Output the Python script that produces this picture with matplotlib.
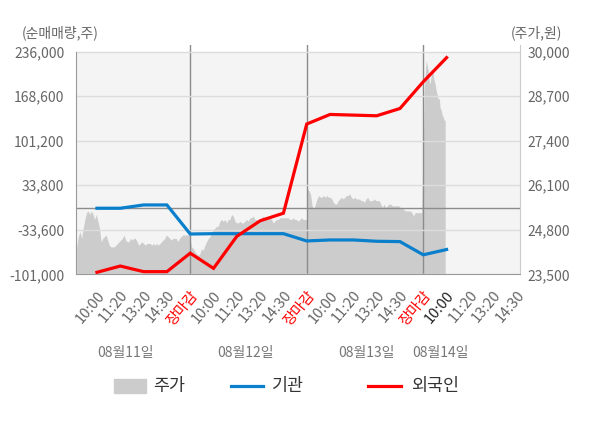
import numpy as np
import matplotlib
matplotlib.use('Agg')
import matplotlib.pyplot as plt
from matplotlib.patches import Rectangle
from matplotlib.lines import Line2D
from matplotlib.ticker import FuncFormatter

plt.rcParams['font.family'] = ['Noto Sans CJK KR', 'DejaVu Sans']

# ---------------- data ----------------
x_labels = ['10:00', '11:20', '13:20', '14:30', '장마감',
            '10:00', '11:20', '13:20', '14:30', '장마감',
            '10:00', '11:20', '13:20', '14:30', '장마감',
            '10:00', '11:20', '13:20', '14:30']
dates = ['08월11일', '08월12일', '08월13일', '08월14일']

inst = [-1000, -1000, 4000, 4000, -40000,
        -39500, -39500, -39500, -39500, -50500,
        -49000, -49000, -51000, -51500, -71500,
        -63500]
foreign = [-98000, -88500, -97000, -97000, -69000,
           -92000, -43500, -20000, -8500, 126500,
           141000, 140000, 139000, 150000, 190500,
           227000]

price_day1 = [24300, 24600, 24750, 24550, 24850, 25100, 25300, 25350, 25250, 25350,
              25250, 25100, 25250, 25050, 24850, 24450, 24550, 24600, 24650, 24500,
              24350, 24300, 24300, 24300, 24350, 24400, 24450, 24500, 24550, 24650,
              24500, 24450, 24450, 24550, 24500, 24550, 24550, 24450, 24350, 24400,
              24450, 24400, 24350, 24400, 24400, 24400, 24350, 24400, 24350, 24400,
              24350, 24400, 24450, 24500, 24550, 24650, 24600, 24550, 24500, 24550,
              24550, 24550, 24450, 24550, 24600, 24650, 24650, 24650, 24650, 24650]
price_day2 = [24300, 24250, 24150, 24100, 24050, 24100, 24250, 24200, 24350, 24450,
              24550, 24600, 24700, 24800, 24850, 24900, 24900, 25050, 25100, 25050,
              25100, 25000, 25100, 25100, 25250, 25200, 25050, 25000, 25000, 25050,
              25000, 25000, 25050, 25100, 25050, 25150, 25150, 25200, 25100, 25100,
              25050, 25100, 25150, 25200, 25150, 25150, 25100, 25150, 25100, 25000,
              25050, 25100, 25100, 25150, 25150, 25150, 25150, 25150, 25150, 25100,
              25100, 25150, 25100, 25100, 25050, 25100, 25150, 25100, 25100, 25100]
price_day3 = [26000, 25950, 25850, 25500, 25400, 25550, 25700, 25800, 25750, 25750,
              25800, 25750, 25800, 25750, 25750, 25700, 25600, 25550, 25550, 25650,
              25700, 25750, 25700, 25750, 25800, 25800, 25850, 25750, 25700, 25750,
              25700, 25700, 25700, 25650, 25650, 25600, 25700, 25750, 25650, 25650,
              25650, 25700, 25650, 25650, 25650, 25550, 25450, 25550, 25450, 25500,
              25550, 25550, 25500, 25500, 25500, 25500, 25500, 25450, 25450, 25400,
              25350, 25350, 25350, 25350, 25300, 25200, 25300, 25300, 25300, 25300,
              25300]
price_day4 = [27200, 28850, 29350, 29750, 29600, 29450, 29150, 29050, 29350, 29450,
              29350, 29150, 29050, 28850, 28750, 28600, 28650, 28350, 28300, 28150,
              28100, 28000, 28000]

left_ticks = [-101000, -33600, 33800, 101200, 168600, 236000]
right_ticks = [23500, 24800, 26100, 27400, 28700, 30000]

# ---------------- layout / style ----------------
W, H = 600, 428
BLUE = '#0a7fcc'
RED = '#ff0000'
GRAY_AREA = '#cccccc'
TXT = '#666666'
day_spans = [(-0.87, 3.96), (4.06, 8.99), (9.02, 13.93), (14.0, 14.94)]
day_breaks = [4, 9, 14]

fig = plt.figure(figsize=(W / 100, H / 100), dpi=100)
fig.patch.set_facecolor('white')
ax = fig.add_axes([76 / W, 1 - 274.3 / H, (520 - 76) / W, (274.3 - 45) / H])
ax2 = ax.twinx()
ax.set_zorder(2)
ax2.set_zorder(1)
ax.patch.set_visible(False)
ax2.patch.set_facecolor('white')

ax.set_xlim(-0.9, 18.15)
ax.set_ylim(left_ticks[0], left_ticks[-1] + (51.7 - 45) / 222.6 * (left_ticks[-1] - left_ticks[0]))
ax2.set_ylim(right_ticks[0], right_ticks[-1] + (51.7 - 45) / 222.6 * (right_ticks[-1] - right_ticks[0]))

# background band
ax2.axhspan(right_ticks[0], right_ticks[-1], color='#f4f4f4', zorder=0, lw=0)

# price area
xp, yp = [], []
for (a, b), vals in zip(day_spans, [price_day1, price_day2, price_day3, price_day4]):
    xp.extend(np.linspace(a, b, len(vals)))
    yp.extend(vals)
ax2.fill_between(xp, right_ticks[0], yp, color=GRAY_AREA, lw=0, zorder=1)

# grid & reference lines
ax.set_yticks(left_ticks)
ax.yaxis.set_major_formatter(FuncFormatter(lambda v, p: f'{int(v):,}'))
ax.grid(axis='y', color='#dcdcdc', lw=1, zorder=0)
ax.axhline(0, color='#8c8c8c', lw=1, zorder=1)
for b in day_breaks:
    ax.axvline(b, color='#8c8c8c', lw=1, zorder=1)

# lines
xi = np.arange(len(inst))
ax.plot(xi, inst, color=BLUE, lw=2.3, zorder=3, solid_joinstyle='miter')
ax.plot(np.arange(len(foreign)), foreign, color=RED, lw=2.3, zorder=4, solid_joinstyle='miter')

# right axis
ax2.set_yticks(right_ticks)
ax2.yaxis.set_major_formatter(FuncFormatter(lambda v, p: f'{int(v):,}'))
ax2.tick_params(axis='y', length=0, pad=5.5, labelsize=10, labelcolor=TXT)
ax.tick_params(axis='y', length=0, pad=8.5, labelsize=10, labelcolor=TXT)

# spines
for s in ['top', 'right']:
    ax.spines[s].set_visible(False)
for s in ['top', 'left', 'bottom']:
    ax2.spines[s].set_visible(False)
ax.spines['left'].set_bounds(left_ticks[0], left_ticks[-1])
ax.spines['left'].set_color('#999999')
ax.spines['bottom'].set_color('#999999')
ax2.spines['right'].set_color('#cccccc')

# x ticks
ax.set_xticks(np.arange(len(x_labels)))
ax.set_xticklabels(x_labels, rotation=50, ha='right', rotation_mode='anchor')
ax.set_xticks(day_breaks, minor=True)
ax.tick_params(axis='x', which='major', length=0, pad=10, labelsize=10.5, labelcolor=TXT)
ax.tick_params(axis='x', which='minor', length=4, color='#999999')
for i, t in enumerate(ax.get_xticklabels()):
    if x_labels[i] == '장마감':
        t.set_color(RED)
    elif i == 15:
        t.set_color('#222222')

# date labels
for d, px in zip(dates, [125, 246, 366, 440]):
    fig.text(px / W, 1 - 353 / H, d, ha='center', va='center', fontsize=10, color='#777777')

# unit labels
fig.text(22 / W, 1 - 33 / H, '(순매매량,주)', ha='left', va='center', fontsize=10, color=TXT)
fig.text(562 / W, 1 - 33 / H, '(주가,원)', ha='right', va='center', fontsize=10, color=TXT)

# legend (manual)
ly = 1 - 386 / H
fig.patches.append(Rectangle((114 / W, 1 - 393 / H), 32 / W, 14 / H, color=GRAY_AREA,
                             transform=fig.transFigure, figure=fig))
fig.text(153 / W, ly, '주가', ha='left', va='center', fontsize=12.5, color='#333333')
fig.lines.append(Line2D([231 / W, 263 / W], [ly, ly], color=BLUE, lw=2.3,
                        transform=fig.transFigure, figure=fig))
fig.text(272 / W, ly, '기관', ha='left', va='center', fontsize=12.5, color='#333333')
fig.lines.append(Line2D([368 / W, 401 / W], [ly, ly], color=RED, lw=2.3,
                        transform=fig.transFigure, figure=fig))
fig.text(411 / W, ly, '외국인', ha='left', va='center', fontsize=12.5, color='#333333')

fig.savefig('out.png', dpi=100, facecolor='white')
